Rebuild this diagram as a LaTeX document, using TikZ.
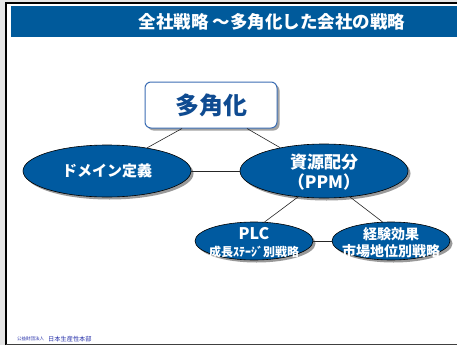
\documentclass[tikz,border=0pt]{standalone}
\usepackage{fontspec}
\setmainfont{Noto Sans CJK JP}
\usetikzlibrary{shapes.geometric,shadows,calc,backgrounds}
\definecolor{barblue}{RGB}{0,90,155}
\definecolor{ellblue}{RGB}{0,90,160}
\definecolor{boxblue}{RGB}{60,110,180}
\definecolor{textblue}{RGB}{15,75,145}
\definecolor{footblue}{RGB}{40,50,170}
\tikzset{
  ell/.style={ellipse, draw=black, line width=0.6pt, fill=ellblue, inner sep=0pt,
    drop shadow={shadow xshift=2.5pt, shadow yshift=-2.5pt, fill=black!50, opacity=0.8}},
  etext/.style={text=white, align=center, inner sep=0pt},
  conn/.style={draw=black!85, line width=0.6pt},
  topbox/.style={rectangle, rounded corners=6pt, draw=boxblue, line width=1pt, fill=white,
    minimum width=132pt, minimum height=46pt, inner sep=0pt,
    drop shadow={shadow xshift=2.5pt, shadow yshift=-2.5pt, fill=black!45, opacity=0.8},
    text=textblue, font=\bfseries\fontsize{24}{28}\selectfont},
}
\begin{document}
\begin{tikzpicture}[x=1pt,y=-1pt]
\useasboundingbox (0,0) rectangle (457,345);
\fill[black!10] (0,0) rectangle (457,345);
\fill[white] (6,3) rectangle (457,344);
\draw[line width=2pt, black] (6,345) -- (6,3) -- (457,3);
\draw[line width=1.5pt, black!75] (6,344.3) -- (457,344.3);
\fill[barblue] (11,6) rectangle (457,37);
\node[text=white, font=\bfseries\fontsize{17.5}{20}\selectfont, inner sep=0pt] (title) at (272,21.5) {全社戦略 ～多角化した会社の戦略};

\node[topbox] (top) at (211,105) {多角化};
\node[ell, minimum width=168pt, minimum height=52pt] (dom) at (107,171) {};
\node[etext, font=\bfseries\fontsize{15}{18}\selectfont] (domt) at (dom) {ドメイン定義};
\node[ell, minimum width=168pt, minimum height=54pt] (ppm) at (324,171) {};
\node[etext, font=\bfseries\fontsize{17}{20}\selectfont] (ppmt) at (324,172) {資源配分\\（PPM）};
\node[ell, minimum width=118pt, minimum height=38pt] (plc) at (254,241) {};
\node[etext, font=\bfseries\fontsize{16}{17}\selectfont] (plct) at (254,243) {PLC\\\fontsize{12}{17}\selectfont 成長ｽﾃｰｼﾞ別戦略};
\node[ell, minimum width=118pt, minimum height=38pt] (exp) at (391,241) {};
\node[etext, font=\bfseries\fontsize{14}{17}\selectfont] (expt) at (391,243) {経験効果\\市場地位別戦略};

\draw[conn] ($(top.south)+(-29,0)$) -- (dom.30);
\draw[conn] ($(top.south)+(36,0)$) -- (ppm.152);
\draw[conn] (dom.east) -- (ppm.west);
\draw[conn] (ppm.225) -- (plc.61);
\draw[conn] (ppm.315) -- (exp.114);
\draw[conn] (plc.east) -- (exp.west);

\node[anchor=west, text=footblue, font=\fontsize{4.5}{5}\selectfont, inner sep=0pt] (f1) at (17,339) {公益財団法人};
\node[anchor=west, text=footblue, font=\fontsize{6.2}{7}\selectfont, inner sep=0pt] (f2) at (48,339) {日本生産性本部};
\end{tikzpicture}
\end{document}
